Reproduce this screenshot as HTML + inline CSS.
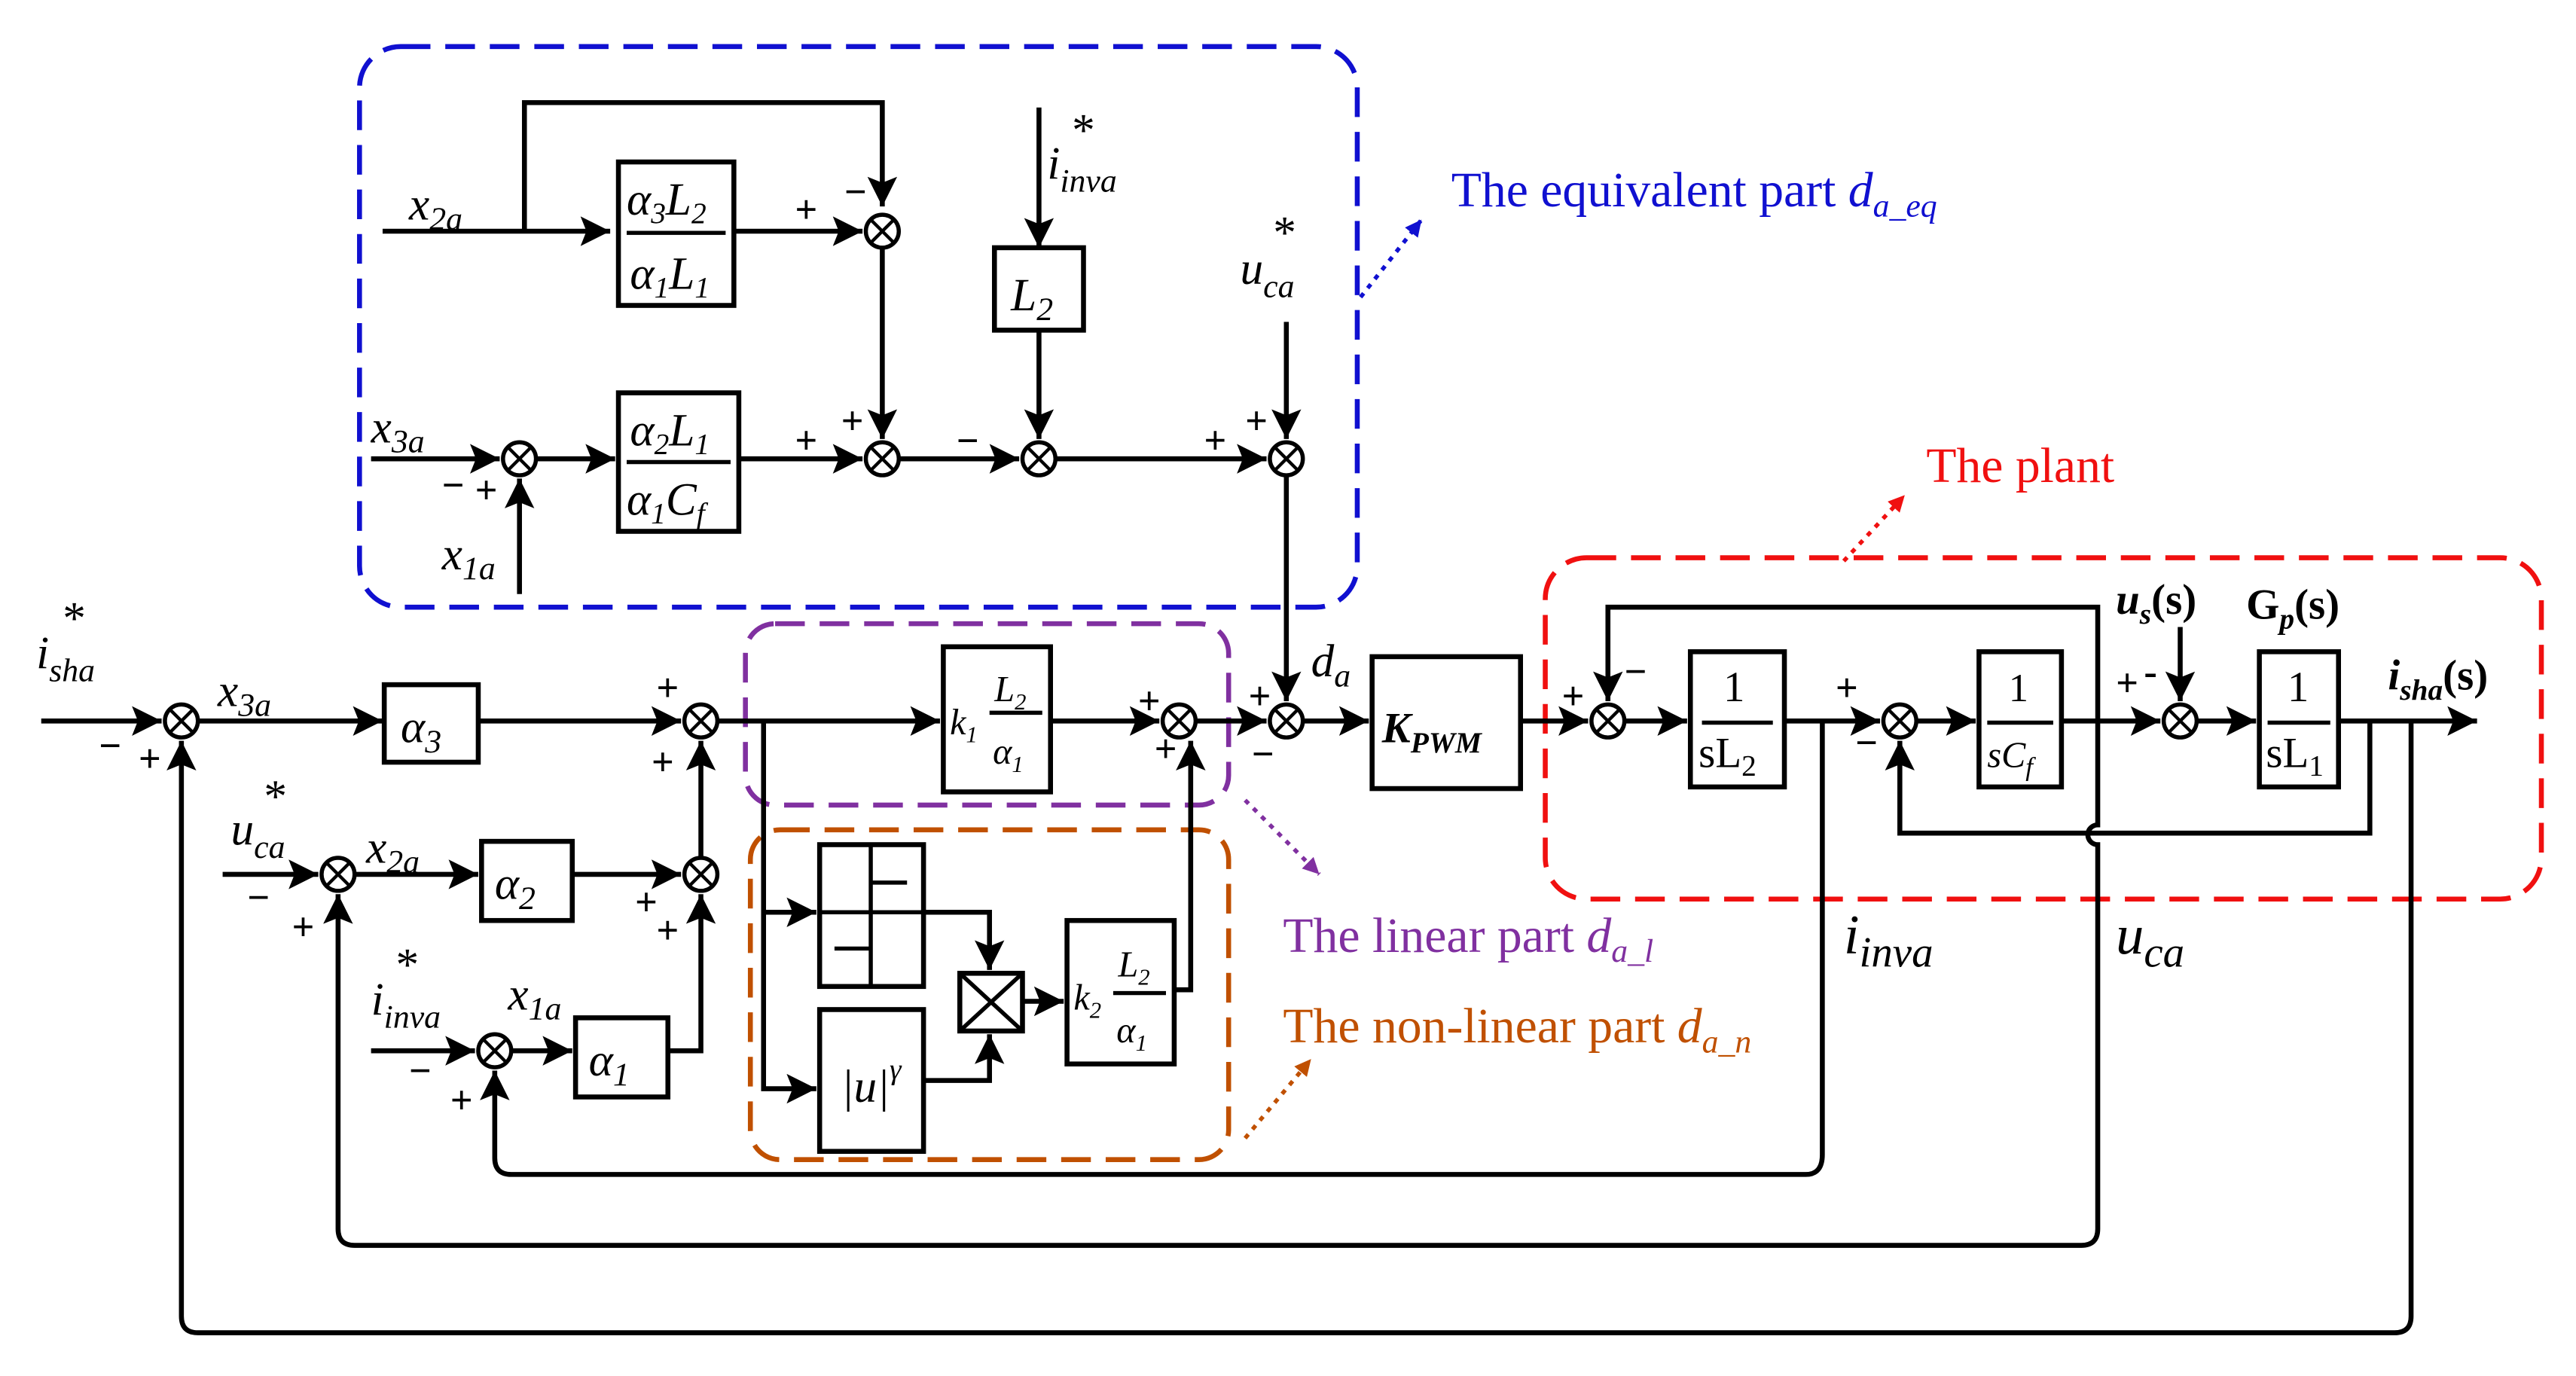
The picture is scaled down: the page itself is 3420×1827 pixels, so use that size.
<!DOCTYPE html>
<html><head><meta charset="utf-8"><style>html,body{margin:0;padding:0;background:#fff}svg{display:block}
text{font-family:"Liberation Serif",serif;}</style></head><body>
<svg width="3420" height="1827" viewBox="0 0 1562 834" xmlns="http://www.w3.org/2000/svg">
<defs>
<marker id="A" viewBox="0 0 10 10" refX="10" refY="5" markerWidth="22" markerHeight="18" orient="auto" markerUnits="userSpaceOnUse"><path d="M0,0L10,5L0,10L2,5z" fill="#000"/></marker>
<marker id="b" viewBox="0 0 10 10" refX="10" refY="5" markerWidth="10" markerHeight="10" orient="auto" markerUnits="userSpaceOnUse"><path d="M0,0L10,5L0,10z" fill="#1010d0"/></marker>
<marker id="p" viewBox="0 0 10 10" refX="10" refY="5" markerWidth="10" markerHeight="10" orient="auto" markerUnits="userSpaceOnUse"><path d="M0,0L10,5L0,10z" fill="#8030a0"/></marker>
<marker id="o" viewBox="0 0 10 10" refX="10" refY="5" markerWidth="10" markerHeight="10" orient="auto" markerUnits="userSpaceOnUse"><path d="M0,0L10,5L0,10z" fill="#c05000"/></marker>
<marker id="r" viewBox="0 0 10 10" refX="10" refY="5" markerWidth="10" markerHeight="10" orient="auto" markerUnits="userSpaceOnUse"><path d="M0,0L10,5L0,10z" fill="#f01010"/></marker>
</defs>
<g fill="none" stroke-width="3" stroke-dasharray="18,9">
<rect x="218" y="28" width="605" height="340" rx="25" stroke="#1010d0"/>
<rect x="452" y="378" width="293" height="110" rx="18" stroke="#8030a0"/>
<rect x="455" y="503" width="290" height="200" rx="18" stroke="#c05000"/>
<rect x="937" y="338" width="604" height="207" rx="25" stroke="#f01010"/>
</g>
<g fill="none" stroke-width="2.5" stroke-dasharray="3,4">
<path d="M825,180L862,133" stroke="#1010d0" marker-end="url(#b)"/>
<path d="M755,485L800,530" stroke="#8030a0" marker-end="url(#p)"/>
<path d="M755,690L795,642" stroke="#c05000" marker-end="url(#o)"/>
<path d="M1118,340L1155,300" stroke="#f01010" marker-end="url(#r)"/>
</g>
<g fill="none" stroke="#000" stroke-width="3" >
<path d="M232,140H370" marker-end="url(#A)"/>
<path d="M318,140V62H535V125" marker-end="url(#A)"/>
<path d="M445,140H523" marker-end="url(#A)"/>
<path d="M535,150V266" marker-end="url(#A)"/>
<path d="M225,278H303" marker-end="url(#A)"/>
<path d="M315,360V290" marker-end="url(#A)"/>
<path d="M325,278H373" marker-end="url(#A)"/>
<path d="M448,278H523" marker-end="url(#A)"/>
<path d="M545,278H618" marker-end="url(#A)"/>
<path d="M630,65V150" marker-end="url(#A)"/>
<path d="M630,200V266" marker-end="url(#A)"/>
<path d="M640,278H768" marker-end="url(#A)"/>
<path d="M780,195V266" marker-end="url(#A)"/>
<path d="M780,288V425" marker-end="url(#A)"/>
<path d="M25,437H98" marker-end="url(#A)"/>
<path d="M120,437H232" marker-end="url(#A)"/>
<path d="M290,437H413" marker-end="url(#A)"/>
<path d="M435,437H570" marker-end="url(#A)"/>
<path d="M637,437H703" marker-end="url(#A)"/>
<path d="M725,437H768" marker-end="url(#A)"/>
<path d="M790,437H830" marker-end="url(#A)"/>
<path d="M922,437H963" marker-end="url(#A)"/>
<path d="M985,437H1023" marker-end="url(#A)"/>
<path d="M1082,437H1140" marker-end="url(#A)"/>
<path d="M1162,437H1198" marker-end="url(#A)"/>
<path d="M1250,437H1310" marker-end="url(#A)"/>
<path d="M1322,380V425" marker-end="url(#A)"/>
<path d="M1332,437H1368" marker-end="url(#A)"/>
<path d="M1418,437H1502" marker-end="url(#A)"/>
<path d="M1437,437V505H1152V449" marker-end="url(#A)"/>
<path d="M1462,437V798Q1462,808 1452,808H120Q110,808 110,798V449" marker-end="url(#A)"/>
<path d="M1272,437V500A6,6 0 0 0 1272,512V745Q1272,755 1262,755H215Q205,755 205,745V542" marker-end="url(#A)"/>
<path d="M1272,437V368H975V425" marker-end="url(#A)"/>
<path d="M1105,437V700Q1105,712 1095,712H310Q300,712 300,702V649" marker-end="url(#A)"/>
<path d="M135,530H193" marker-end="url(#A)"/>
<path d="M215,530H290" marker-end="url(#A)"/>
<path d="M347,530H413" marker-end="url(#A)"/>
<path d="M425,520V449" marker-end="url(#A)"/>
<path d="M225,637H288" marker-end="url(#A)"/>
<path d="M310,637H347" marker-end="url(#A)"/>
<path d="M405,637H425V542" marker-end="url(#A)"/>
<path d="M463,437V660H495" marker-end="url(#A)"/>
<path d="M463,553H495" marker-end="url(#A)"/>
<path d="M560,553H600V588" marker-end="url(#A)"/>
<path d="M560,655H600V627" marker-end="url(#A)"/>
<path d="M620,607H645" marker-end="url(#A)"/>
<path d="M712,600H722V449" marker-end="url(#A)"/>
</g>
<g fill="#fff" stroke="#000" stroke-width="3">
<rect x="375" y="98" width="70" height="87"/>
<rect x="375" y="238" width="73" height="84"/>
<rect x="603" y="150" width="54" height="50"/>
<rect x="233" y="415" width="57" height="47"/>
<rect x="572" y="392" width="65" height="88"/>
<rect x="832" y="398" width="90" height="80"/>
<rect x="1025" y="395" width="57" height="82"/>
<rect x="1200" y="395" width="50" height="82"/>
<rect x="1370" y="395" width="48" height="82"/>
<rect x="292" y="510" width="55" height="48"/>
<rect x="349" y="617" width="56" height="48"/>
<rect x="497" y="512" width="63" height="86"/>
<rect x="497" y="612" width="63" height="86"/>
<rect x="582" y="590" width="38" height="35"/>
<rect x="647" y="558" width="65" height="87"/>
</g>
<g stroke="#000" stroke-width="2.5" fill="none">
<path d="M582,590L620,625M620,590L582,625"/>
<path d="M497,553H560M528,512V598M528,535H550M506,575H528"/>
<path d="M380,141H440M380,280H443M1032,438H1075M1205,438H1245M1375,438H1413M600,432H632M675,602H707"/>
</g>
<g fill="#fff" stroke="#000" stroke-width="2.5">
<circle cx="535" cy="140" r="10"/><circle cx="315" cy="278" r="10"/><circle cx="535" cy="278" r="10"/><circle cx="630" cy="278" r="10"/><circle cx="780" cy="278" r="10"/>
<circle cx="110" cy="437" r="10"/><circle cx="425" cy="437" r="10"/><circle cx="715" cy="437" r="10"/><circle cx="780" cy="437" r="10"/><circle cx="975" cy="437" r="10"/><circle cx="1152" cy="437" r="10"/><circle cx="1322" cy="437" r="10"/>
<circle cx="205" cy="530" r="10"/><circle cx="425" cy="530" r="10"/><circle cx="300" cy="637" r="10"/>
</g>
<g stroke="#000" stroke-width="2">
<path d="M528,133l14,14m0,-14l-14,14M308,271l14,14m0,-14l-14,14M528,271l14,14m0,-14l-14,14M623,271l14,14m0,-14l-14,14M773,271l14,14m0,-14l-14,14M103,430l14,14m0,-14l-14,14M418,430l14,14m0,-14l-14,14M708,430l14,14m0,-14l-14,14M773,430l14,14m0,-14l-14,14M968,430l14,14m0,-14l-14,14M1145,430l14,14m0,-14l-14,14M1315,430l14,14m0,-14l-14,14M198,523l14,14m0,-14l-14,14M418,523l14,14m0,-14l-14,14M293,630l14,14m0,-14l-14,14"/>
</g>
<g font-size="28" font-style="italic" fill="#000">
<text x="248" y="133">x<tspan font-size="20" dy="6">2a</tspan></text>
<text x="225" y="268">x<tspan font-size="20" dy="6">3a</tspan></text>
<text x="268" y="345">x<tspan font-size="20" dy="6">1a</tspan></text>
<text x="635" y="108">i<tspan font-size="20" dy="8">inva</tspan></text><text x="650" y="88" font-style="normal">*</text>
<text x="752" y="172">u<tspan font-size="20" dy="8">ca</tspan></text><text x="772" y="150" font-style="normal">*</text>
<text x="22" y="405">i<tspan font-size="20" dy="8">sha</tspan></text><text x="38" y="384" font-style="normal">*</text>
<text x="132" y="428">x<tspan font-size="20" dy="6">3a</tspan></text>
<text x="140" y="512">u<tspan font-size="20" dy="8">ca</tspan></text><text x="160" y="492" font-style="normal">*</text>
<text x="222" y="523">x<tspan font-size="20" dy="6">2a</tspan></text>
<text x="225" y="615">i<tspan font-size="20" dy="8">inva</tspan></text><text x="240" y="594" font-style="normal">*</text>
<text x="308" y="612">x<tspan font-size="20" dy="6">1a</tspan></text>
<text x="795" y="410">d<tspan font-size="20" dy="6">a</tspan></text>
<text x="1118" y="578" font-size="34">i<tspan font-size="26" dy="8">inva</tspan></text>
<text x="1283" y="578" font-size="34">u<tspan font-size="26" dy="8">ca</tspan></text>
<text x="380" y="130">α<tspan font-size="18" dy="5">3</tspan><tspan dy="-5">L</tspan><tspan font-size="18" dy="5">2</tspan></text>
<text x="382" y="175">α<tspan font-size="18" dy="5">1</tspan><tspan dy="-5">L</tspan><tspan font-size="18" dy="5">1</tspan></text>
<text x="382" y="270">α<tspan font-size="18" dy="5">2</tspan><tspan dy="-5">L</tspan><tspan font-size="18" dy="5">1</tspan></text>
<text x="380" y="312">α<tspan font-size="18" dy="5">1</tspan><tspan dy="-5">C</tspan><tspan font-size="18" dy="5">f</tspan></text>
<text x="613" y="188">L<tspan font-size="20" dy="6">2</tspan></text>
<text x="243" y="450">α<tspan font-size="20" dy="6">3</tspan></text>
<text x="300" y="545">α<tspan font-size="20" dy="6">2</tspan></text>
<text x="357" y="652">α<tspan font-size="20" dy="6">1</tspan></text>
<text x="576" y="445" font-size="22">k<tspan font-size="14" dy="5">1</tspan></text>
<text x="603" y="425" font-size="22">L<tspan font-size="14" dy="5">2</tspan></text>
<text x="602" y="463" font-size="22">α<tspan font-size="14" dy="5">1</tspan></text>
<text x="651" y="612" font-size="22">k<tspan font-size="14" dy="5">2</tspan></text>
<text x="678" y="592" font-size="22">L<tspan font-size="14" dy="5">2</tspan></text>
<text x="677" y="632" font-size="22">α<tspan font-size="14" dy="5">1</tspan></text>
<text x="510" y="668">|u|<tspan font-size="18" dy="-14">γ</tspan></text>
<text x="1030" y="465" font-style="normal" font-size="26">sL<tspan font-size="18" dy="5">2</tspan></text>
<text x="1045" y="425" font-style="normal" font-size="26">1</text>
<text x="1205" y="465" font-size="22">sC<tspan font-size="16" dy="5">f</tspan></text>
<text x="1218" y="425" font-style="normal" font-size="24">1</text>
<text x="1374" y="465" font-style="normal" font-size="26">sL<tspan font-size="18" dy="5">1</tspan></text>
<text x="1387" y="425" font-style="normal" font-size="26">1</text>
<text x="838" y="450" font-weight="bold" font-size="26">K<tspan font-size="18" dy="6">PWM</tspan></text>
<text x="1283" y="372" font-weight="bold" font-size="26">u<tspan font-size="18" dy="6">s</tspan><tspan dy="-6" font-style="normal">(s)</tspan></text>
<text x="1362" y="375" font-weight="bold" font-size="26" font-style="normal">G<tspan font-size="18" dy="6" font-style="italic">p</tspan><tspan dy="-6">(s)</tspan></text>
<text x="1448" y="418" font-weight="bold" font-size="26">i<tspan font-size="18" dy="6">sha</tspan><tspan dy="-6" font-style="normal">(s)</tspan></text>
</g>
<g font-size="24" font-weight="bold" font-family="Liberation Sans" fill="#000">
<text x="482" y="135">+</text><text x="512" y="124">−</text>
<text x="268" y="302">−</text><text x="288" y="305">+</text>
<text x="482" y="275">+</text><text x="510" y="263">+</text>
<text x="580" y="275">−</text>
<text x="730" y="275">+</text><text x="755" y="263">+</text>
<text x="60" y="460">−</text><text x="84" y="468">+</text>
<text x="398" y="425">+</text><text x="395" y="470">+</text>
<text x="690" y="433">+</text><text x="700" y="462">+</text>
<text x="757" y="430">+</text><text x="759" y="465">−</text>
<text x="947" y="430">+</text><text x="985" y="415">−</text>
<text x="1113" y="425">+</text><text x="1125" y="458">−</text>
<text x="1283" y="422">+</text><text x="1300" y="415">-</text>
<text x="150" y="552">−</text><text x="177" y="570">+</text>
<text x="385" y="555">+</text><text x="398" y="572">+</text>
<text x="248" y="657">−</text><text x="273" y="675">+</text>
</g>
<g font-size="30">
<text x="880" y="125" fill="#1010d0">The equivalent part <tspan font-style="italic">d<tspan font-size="20" dy="6">a_eq</tspan></tspan></text>
<text x="778" y="577" fill="#8030a0">The linear part <tspan font-style="italic">d<tspan font-size="20" dy="6">a_l</tspan></tspan></text>
<text x="778" y="632" fill="#c05000">The non-linear part <tspan font-style="italic">d<tspan font-size="20" dy="6">a_n</tspan></tspan></text>
<text x="1168" y="292" fill="#f01010">The plant</text>
</g>
</svg>
</body></html>
